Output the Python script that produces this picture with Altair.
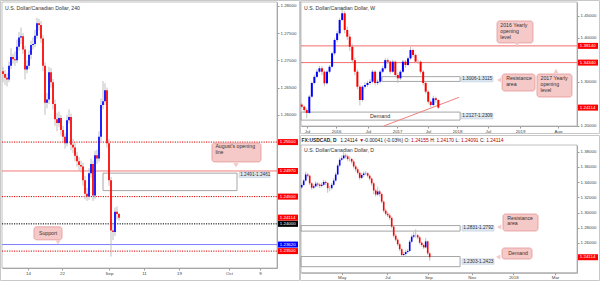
import altair as alt
import pandas as pd

FONT = "Liberation Sans"
BLUE = "#0000ff"
RED = "#ff0000"
WICK = "#b8b8b8"
PINK = "#f6c9c9"
PINK_EDGE = "#e39696"
FRAME = "#b0b0b0"
TXT = "#333333"

# ======================= DATA =======================
# ---- 4-hour panel ----
H4_OPEN0 = 1.2680
H4_CLOSE = [1.2675, 1.2668, 1.2665, 1.2690, 1.2706, 1.2702, 1.2700, 1.2725, 1.2742, 1.2744,
            1.2720, 1.2683, 1.2690, 1.2710, 1.2728, 1.2730, 1.2745, 1.2768, 1.2765, 1.2740,
            1.2690, 1.2622, 1.2628, 1.2678, 1.2660, 1.2620, 1.2592, 1.2585, 1.2594, 1.2572,
            1.2560, 1.2548, 1.2590, 1.2596, 1.2545, 1.2540, 1.2525, 1.2515, 1.2508, 1.2505,
            1.2480, 1.2455, 1.2450, 1.2493, 1.2510, 1.2452, 1.2526, 1.2520, 1.2560, 1.2618,
            1.2625, 1.2645, 1.2548, 1.2480, 1.2388, 1.2385, 1.2422, 1.2418, 1.2411]
H4_HIGH = [1.2688, 1.2682, 1.2676, 1.2698, 1.2722, 1.2712, 1.2716, 1.2738, 1.2752, 1.2760,
           1.2750, 1.2726, 1.2700, 1.2718, 1.2736, 1.2742, 1.2756, 1.2778, 1.2776, 1.2772,
           1.2746, 1.2696, 1.2640, 1.2688, 1.2686, 1.2666, 1.2628, 1.2604, 1.2606, 1.2600,
           1.2580, 1.2566, 1.2600, 1.2610, 1.2602, 1.2556, 1.2548, 1.2532, 1.2522, 1.2516,
           1.2512, 1.2488, 1.2466, 1.2502, 1.2520, 1.2516, 1.2534, 1.2536, 1.2570, 1.2630,
           1.2662, 1.2658, 1.2650, 1.2556, 1.2486, 1.2398, 1.2430, 1.2432, 1.2420]
H4_LOW = [1.2660, 1.2655, 1.2652, 1.2660, 1.2684, 1.2694, 1.2690, 1.2695, 1.2718, 1.2730,
          1.2712, 1.2665, 1.2676, 1.2684, 1.2702, 1.2720, 1.2724, 1.2740, 1.2755, 1.2732,
          1.2680, 1.2600, 1.2612, 1.2620, 1.2650, 1.2610, 1.2580, 1.2570, 1.2578, 1.2562,
          1.2550, 1.2538, 1.2542, 1.2584, 1.2535, 1.2530, 1.2515, 1.2505, 1.2498, 1.2494,
          1.2470, 1.2445, 1.2442, 1.2444, 1.2485, 1.2442, 1.2446, 1.2510, 1.2514, 1.2552,
          1.2610, 1.2618, 1.2540, 1.2470, 1.2340, 1.2370, 1.2378, 1.2408, 1.2406]
H4_XTICK_POS = [12.5, 29.5, 53, 70.5, 88, 113, 128.5]
H4_XTICK_LBL = ["14", "22", "Sep", "11", "19", "Oct", "9"]
H4_YTICKS = [1.26, 1.265, 1.27, 1.275, 1.28]
H4_RED_DOTTED = [1.255, 1.245, 1.235]
H4_AUG_OPEN = [1.2497]
H4_ROUND = [1.24]
H4_SUPPORT = [1.2362]
H4_LAST = [1.24114]
H4_ZONE = [1.2461, 1.2493]
H4_ZONE_TXT = "1.2491-1.2461"

# ---- weekly panel ----
WK_OPEN0 = 1.2480
WK_CLOSE = [1.2432, 1.2357, 1.2290, 1.2660, 1.2970, 1.3110, 1.3227, 1.3305, 1.3227, 1.2964,
            1.3227, 1.3340, 1.3645, 1.3948, 1.4100, 1.4402, 1.4555, 1.4175, 1.4023, 1.3795,
            1.3490, 1.3227, 1.2886, 1.2584, 1.2886, 1.2925, 1.2970, 1.3000, 1.3227, 1.2970,
            1.3000, 1.3227, 1.3305, 1.3490, 1.3455, 1.3227, 1.3455, 1.3152, 1.3077, 1.3227,
            1.3455, 1.3380, 1.3530, 1.3720, 1.3607, 1.3455, 1.3455, 1.3227, 1.2970, 1.2773,
            1.2545, 1.2470, 1.2623, 1.2584, 1.2411]
WK_HIGH = [1.2520, 1.2460, 1.2400, 1.2700, 1.3000, 1.3160, 1.3280, 1.3360, 1.3350, 1.3250,
           1.3260, 1.3380, 1.3680, 1.3990, 1.4150, 1.4450, 1.4690, 1.4600, 1.4250, 1.4080,
           1.3850, 1.3550, 1.3280, 1.2920, 1.2920, 1.2990, 1.3020, 1.3060, 1.3270, 1.3260,
           1.3050, 1.3260, 1.3360, 1.3530, 1.3530, 1.3480, 1.3500, 1.3480, 1.3200, 1.3270,
           1.3500, 1.3490, 1.3570, 1.3790, 1.3750, 1.3640, 1.3500, 1.3480, 1.3260, 1.3000,
           1.2800, 1.2580, 1.2680, 1.2660, 1.2600]
WK_LOW = [1.2400, 1.2300, 1.2170, 1.2270, 1.2640, 1.2940, 1.3080, 1.3200, 1.3150, 1.2900,
          1.2940, 1.3190, 1.3320, 1.3600, 1.3900, 1.4050, 1.4380, 1.4100, 1.3950, 1.3700,
          1.3420, 1.3150, 1.2830, 1.2460, 1.2550, 1.2840, 1.2880, 1.2930, 1.2960, 1.2920,
          1.2920, 1.2960, 1.3190, 1.3270, 1.3400, 1.3180, 1.3200, 1.3100, 1.2970, 1.3040,
          1.3200, 1.3320, 1.3350, 1.3500, 1.3560, 1.3420, 1.3400, 1.3180, 1.2920, 1.2730,
          1.2500, 1.2420, 1.2440, 1.2520, 1.2380]
WK_XTICK_POS = [2.1, 13.6, 26.2, 37.7, 49.9, 61.4, 73.6, 86.3, 101.3]
WK_XTICK_LBL = ["Jul", "2016", "Jul", "2017", "Jul", "2018", "Jul", "2019", "Aug"]
WK_YTICKS = [1.20, 1.30, 1.40, 1.45]
WK_YEAR_OPENS = [1.3814, 1.3434]
WK_LAST = [1.24114]
WK_RES_ZONE = [1.3006, 1.3115]
WK_RES_TXT = "1.3006-1.3115"
WK_DEM_ZONE = [1.2127, 1.2309]
WK_DEM_TXT = "1.2127-1.2309"
WK_TREND_X = [32.4, 62.2]
WK_TREND_Y = [1.1993, 1.2645]

# ---- daily panel ----
D1_OPEN0 = 1.3330
D1_CLOSE = [1.3362, 1.3420, 1.3500, 1.3484, 1.3384, 1.3326, 1.3345, 1.3380, 1.3368, 1.3350,
            1.3365, 1.3402, 1.3387, 1.3320, 1.3320, 1.3364, 1.3420, 1.3500, 1.3618, 1.3694,
            1.3713, 1.3750, 1.3738, 1.3703, 1.3704, 1.3670, 1.3606, 1.3568, 1.3522, 1.3456,
            1.3494, 1.3513, 1.3516, 1.3484, 1.3446, 1.3384, 1.3290, 1.3237, 1.3277, 1.3243,
            1.3142, 1.3024, 1.2983, 1.2963, 1.2929, 1.2814, 1.2695, 1.2642, 1.2582, 1.2517,
            1.2441, 1.2454, 1.2480, 1.2494, 1.2616, 1.2682, 1.2700, 1.2700, 1.2673, 1.2603,
            1.2572, 1.2541, 1.2620, 1.2463, 1.2411]
D1_HIGH = [1.3385, 1.3440, 1.3535, 1.3520, 1.3495, 1.3400, 1.3370, 1.3410, 1.3400, 1.3385,
           1.3395, 1.3430, 1.3420, 1.3400, 1.3350, 1.3390, 1.3450, 1.3530, 1.3640, 1.3720,
           1.3750, 1.3793, 1.3780, 1.3760, 1.3740, 1.3720, 1.3690, 1.3630, 1.3590, 1.3540,
           1.3520, 1.3540, 1.3545, 1.3530, 1.3500, 1.3460, 1.3400, 1.3310, 1.3340, 1.3300,
           1.3260, 1.3160, 1.3050, 1.3010, 1.2990, 1.2945, 1.2830, 1.2720, 1.2660, 1.2600,
           1.2530, 1.2480, 1.2510, 1.2520, 1.2640, 1.2710, 1.2740, 1.2778, 1.2720, 1.2690,
           1.2620, 1.2590, 1.2665, 1.2630, 1.2475]
D1_LOW = [1.3310, 1.3350, 1.3410, 1.3460, 1.3360, 1.3300, 1.3310, 1.3330, 1.3340, 1.3320,
          1.3330, 1.3350, 1.3360, 1.3260, 1.3280, 1.3300, 1.3350, 1.3410, 1.3490, 1.3600,
          1.3680, 1.3700, 1.3710, 1.3680, 1.3670, 1.3640, 1.3580, 1.3540, 1.3500, 1.3430,
          1.3440, 1.3470, 1.3490, 1.3460, 1.3420, 1.3350, 1.3240, 1.3210, 1.3220, 1.3210,
          1.3120, 1.3000, 1.2960, 1.2940, 1.2900, 1.2790, 1.2670, 1.2620, 1.2560, 1.2490,
          1.2415, 1.2420, 1.2430, 1.2460, 1.2480, 1.2600, 1.2660, 1.2670, 1.2650, 1.2580,
          1.2550, 1.2520, 1.2530, 1.2440, 1.2365]
D1_XTICK_POS = [20.0, 42.8, 63.3, 85.0, 105.8, 126.65]
D1_XTICK_LBL = ["May", "Jul", "Sep", "Nov", "2018", "Mar"]
D1_YTICKS = [1.26, 1.28, 1.30, 1.32, 1.34, 1.36, 1.38]
D1_LAST = [1.24114]
D1_RES_ZONE = [1.2755, 1.2828]
D1_RES_TXT = "1.2831-1.2792"
D1_DEM_ZONE = [1.2287, 1.2421]
D1_DEM_TXT = "1.2303-1.2423"

HEADER_PARTS = ["FX:USDCAD, D", "1.24114", "\u25bc", "-0.00041 (-0.03%)", "O:", "1.24155",
                "H:", "1.24170", "L:", "1.24091", "C:", "1.24114"]
HEADER_RED = [False, False, True, False, False, True, False, True, False, True, False, True]

# ======================= PANEL SCALES =======================
def panel(xdom, xrng, ydom, yrng):
    return dict(
        xdom=xdom, ydom=ydom,
        xs=alt.Scale(domain=xdom, range=xrng, nice=False, zero=False),
        ys=alt.Scale(domain=ydom, range=yrng, nice=False, zero=False),
    )

P4 = panel([-0.5, 137.0], [2, 277], [1.2319, 1.2807], [268, 2])
PW = panel([-0.28, 108.8], [301, 577], [1.19932, 1.48114], [126, 2])
PD = panel([-0.35, 137.65], [301, 577], [1.22079, 1.38882], [272.7, 145])


def xq(field, p):
    return alt.X(field, type="quantitative", scale=p["xs"], axis=None)


def yq(field, p):
    return alt.Y(field, type="quantitative", scale=p["ys"], axis=None)


def label_expr(pos, lbl):
    s = "''"
    for v, t in reversed(list(zip(pos, lbl))):
        s = f"(abs(datum.value - {v}) < 0.01 ? '{t}' : {s})"
    return s


AX = dict(labelFontSize=4.4, labelFont=FONT, labelColor="#444444", tickSize=2,
          tickColor="#999999", domainColor="#a0a0a0", grid=False, title=None,
          labelPadding=1, labelOverlap=False, labelFlush=False)


def frame_layer(p, xpos, xlbl, xoff, yvals, yoff):
    df = pd.DataFrame({"x0": [p["xdom"][0]], "x1": [p["xdom"][1]],
                       "y0": [p["ydom"][0]], "y1": [p["ydom"][1]]})
    xa = alt.Axis(orient="bottom", offset=xoff, values=xpos,
                  labelExpr=label_expr(xpos, xlbl), **AX)
    ya = alt.Axis(orient="right", offset=yoff, values=yvals, format=".5f", **AX)
    return alt.Chart(df).mark_rect(fillOpacity=0, stroke=FRAME, strokeWidth=0.8).encode(
        x=alt.X("x0", type="quantitative", scale=p["xs"], axis=xa), x2="x1",
        y=alt.Y("y0", type="quantitative", scale=p["ys"], axis=ya), y2="y1")


def candle_layers(p, open0, close, high, low, body_w):
    opens = [open0] + list(close[:-1])
    df = pd.DataFrame({"i": list(range(len(close))), "open": opens, "close": close,
                       "high": high, "low": low})
    wick = alt.Chart(df).mark_rule(color=WICK, strokeWidth=0.9).encode(
        x=xq("i", p), y=yq("low", p), y2="high")
    body = alt.Chart(df).mark_rule(strokeWidth=body_w).encode(
        x=xq("i", p), y=yq("open", p), y2="close",
        color=alt.condition("datum.close >= datum.open", alt.value(BLUE), alt.value(RED)))
    return [wick, body]


def hlines(p, prices, color, dash=None, width=1.0):
    df = pd.DataFrame({"price": prices, "x0": p["xdom"][0], "x1": p["xdom"][1]})
    kw = dict(color=color, strokeWidth=width)
    if dash:
        kw["strokeDash"] = dash
    return alt.Chart(df).mark_rule(**kw).encode(x=xq("x0", p), x2="x1", y=yq("price", p))


def tags(p, prices, color, x_px):
    df = pd.DataFrame({"price": prices, "txt": [f"{v:.5f}" for v in prices]})
    r = alt.Chart(df).mark_rect(color=color, yOffset=-3, y2Offset=3).encode(
        x=alt.value(x_px), x2=alt.value(x_px + 20), y=yq("price", p), y2="price")
    t = alt.Chart(df).mark_text(color="white", fontSize=4.4, font=FONT, align="left",
                                baseline="middle").encode(
        x=alt.value(x_px + 1.8), y=yq("price", p), text="txt:N")
    return [r, t]


def zone(p, x0, x1, rng):
    df = pd.DataFrame({"x0": [x0], "x1": [x1], "lo": [rng[0]], "hi": [rng[1]]})
    return alt.Chart(df).mark_rect(fillOpacity=0, stroke="#9c9c9c", strokeWidth=0.9).encode(
        x=xq("x0", p), x2="x1", y=yq("lo", p), y2="hi")


def zone_label(p, x0, x1, price, text):
    df = pd.DataFrame({"x0": [x0], "x1": [x1], "price": [price], "t": [text]})
    r = alt.Chart(df).mark_rect(fill="#dde7f1", stroke="#b9c9d8", strokeWidth=0.5,
                                yOffset=-2.8, y2Offset=2.8).encode(
        x=xq("x0", p), x2="x1", y=yq("price", p), y2="price")
    t = alt.Chart(df).mark_text(fontSize=4.7, font=FONT, color=TXT, align="left",
                                baseline="middle", dx=1.2).encode(
        x=xq("x0", p), y=yq("price", p), text="t:N")
    return [r, t]


def callout(p, box, tip, shape, text, tpos, baseline="top", align="left"):
    bdf = pd.DataFrame({"x0": [box[0]], "x1": [box[1]], "y0": [box[2]], "y1": [box[3]]})
    r = alt.Chart(bdf).mark_rect(fill=PINK, stroke=PINK_EDGE, strokeWidth=0.8,
                                 cornerRadius=2.5).encode(
        x=xq("x0", p), x2="x1", y=yq("y0", p), y2="y1")
    tdf = pd.DataFrame({"x": [tip[0]], "y": [tip[1]]})
    tri = alt.Chart(tdf).mark_point(shape=shape, filled=True, color=PINK, size=26,
                                    opacity=1, strokeWidth=0).encode(
        x=xq("x", p), y=yq("y", p))
    xdf = pd.DataFrame({"x": [tpos[0]], "y": [tpos[1]], "t": [text]})
    t = alt.Chart(xdf).mark_text(fontSize=5.2, font=FONT, color=TXT, align=align,
                                 baseline=baseline, lineBreak="\n", lineHeight=5.8).encode(
        x=xq("x", p), y=yq("y", p), text="t:N")
    return [r, tri, t]


def px_text(text, x, y, color=TXT, size=5.2, weight="normal", align="left"):
    return alt.Chart(pd.DataFrame({"t": [text]})).mark_text(
        fontSize=size, font=FONT, color=color, align=align, baseline="middle",
        fontWeight=weight).encode(x=alt.value(x), y=alt.value(y), text="t:N")


def px_box(x0, x1, y0, y1, color="#c8c8c8"):
    return alt.Chart(pd.DataFrame({"a": [0]})).mark_rect(
        fillOpacity=0, stroke=color, strokeWidth=1).encode(
        x=alt.value(x0), x2=alt.value(x1), y=alt.value(y0), y2=alt.value(y1))


layers = []

# outer panel borders
layers += [px_box(0.5, 299.5, 0.5, 280.5), px_box(300.5, 599.5, 0.5, 133.5),
           px_box(300.5, 599.5, 135.5, 280.5)]

# ---------------- 4h panel ----------------
layers.append(frame_layer(P4, H4_XTICK_POS, H4_XTICK_LBL, -13, H4_YTICKS, -323))
layers.append(zone(P4, 50, 117, H4_ZONE))
layers += zone_label(P4, 118, 133.5, 1.2490, H4_ZONE_TXT)
layers.append(hlines(P4, H4_RED_DOTTED, "#e00000", dash=[1.2, 1.2]))
layers.append(hlines(P4, H4_AUG_OPEN, "#f07a7a"))
layers.append(hlines(P4, H4_ROUND, "#000000", dash=[1.2, 1.2]))
layers.append(hlines(P4, H4_SUPPORT, "#7d7dff"))
layers += candle_layers(P4, H4_OPEN0, H4_CLOSE, H4_HIGH, H4_LOW, 1.7)
layers += callout(P4, (104.5, 129, 1.25136, 1.25484), (116.5, 1.25075), "triangle-down",
                  "August's opening\nline", (106.2, 1.2546))
layers += callout(P4, (15.5, 29.5, 1.23707, 1.23945), (27.5, 1.2366), "triangle-down",
                  "Support", (22.5, 1.23826), baseline="middle", align="center")
layers += tags(P4, H4_RED_DOTTED + H4_AUG_OPEN + H4_LAST, RED, 278)
layers += tags(P4, H4_ROUND, "#000000", 278)
layers += tags(P4, H4_SUPPORT, BLUE, 278)
layers.append(px_text("U.S. Dollar/Canadian Dollar, 240", 5, 8))

# ---------------- weekly panel ----------------
layers.append(frame_layer(PW, WK_XTICK_POS, WK_XTICK_LBL, -155, WK_YTICKS, -23))
layers.append(zone(PW, 31.7, 62.6, WK_RES_ZONE))
layers.append(zone(PW, PW["xdom"][0], 62.6, WK_DEM_ZONE))
layers += zone_label(PW, 62.96, 75.6, sum(WK_RES_ZONE) / 2, WK_RES_TXT)
layers += zone_label(PW, 62.96, 75.6, sum(WK_DEM_ZONE) / 2, WK_DEM_TXT)
layers.append(alt.Chart(pd.DataFrame({"x": [31.0], "y": [sum(WK_DEM_ZONE) / 2],
                                      "t": ["Demand"]})).mark_text(
    fontSize=5.4, font=FONT, color=TXT, align="center", baseline="middle").encode(
    x=xq("x", PW), y=yq("y", PW), text="t:N"))
layers.append(hlines(PW, WK_YEAR_OPENS, "#f26d6d"))
layers.append(alt.Chart(pd.DataFrame({"x": WK_TREND_X, "y": WK_TREND_Y})).mark_line(
    color="#f08080", strokeWidth=1).encode(x=xq("x", PW), y=yq("y", PW)))
layers += candle_layers(PW, WK_OPEN0, WK_CLOSE, WK_HIGH, WK_LOW, 2.0)
layers += callout(PW, (77.2, 91.4, 1.3880, 1.4380), (85.1, 1.3842), "triangle-down",
                  "2016 Yearly\nopening\nlevel", (78.5, 1.4330))
layers += callout(PW, (79.2, 92.2, 1.2789, 1.3175), (78.0, 1.3040), "triangle-left",
                  "Resistance\narea", (80.8, 1.3125))
layers += callout(PW, (93.0, 106.8, 1.2652, 1.3175), (100.5, 1.3245), "triangle-up",
                  "2017 Yearly\nopening\nlevel", (94.4, 1.3125))
layers += tags(PW, WK_YEAR_OPENS + WK_LAST, RED, 578)
layers.append(px_text("U.S. Dollar/Canadian Dollar, W", 304, 8))

# ---------------- daily panel ----------------
layers.append(frame_layer(PD, D1_XTICK_POS, D1_XTICK_LBL, -8.3, D1_YTICKS, -23))
layers.append(zone(PD, PD["xdom"][0], 79.2, D1_RES_ZONE))
layers.append(zone(PD, PD["xdom"][0], 79.2, D1_DEM_ZONE))
layers += zone_label(PD, 80.15, 96.15, sum(D1_RES_ZONE) / 2, D1_RES_TXT)
layers += zone_label(PD, 80.15, 96.15, sum(D1_DEM_ZONE) / 2, D1_DEM_TXT)
layers += candle_layers(PD, D1_OPEN0, D1_CLOSE, D1_HIGH, D1_LOW, 1.6)
layers += callout(PD, (100.65, 118.15, 1.2757, 1.2980), (98.7, 1.2809), "triangle-left",
                  "Resistance\narea", (102.8, 1.2960))
layers += callout(PD, (100.15, 115.15, 1.2388, 1.2533), (98.2, 1.2414), "triangle-left",
                  "Demand", (103.3, 1.2461), baseline="middle")
layers += tags(PD, D1_LAST, RED, 578)
layers.append(px_text("U.S. Dollar/Canadian Dollar, D", 304, 150))

# ---------------- header line ----------------
CW = {".": .278, ":": .278, ",": .278, " ": .278, "-": .333, "(": .333, ")": .333,
      "%": .889, "F": .611, "X": .667, "U": .722, "S": .667, "D": .722, "C": .722,
      "A": .667, "O": .778, "H": .722, "L": .556, "\u25bc": .62}
HSIZE = 4.9
hx = 301.5
for k, (part, red) in enumerate(zip(HEADER_PARTS, HEADER_RED)):
    bold = k == 0
    layers.append(px_text(part, hx, 140.5, color="#b00000" if red else "#222222",
                          size=HSIZE, weight="bold" if bold else "normal"))
    w = sum(CW.get(ch, .556) for ch in part) * HSIZE * (1.08 if bold else 1.0)
    hx += w + 0.278 * HSIZE

chart = alt.layer(*layers).resolve_scale(x="independent", y="independent").properties(
    width=600, height=281, padding=0, autosize=alt.AutoSizeParams(type="none"),
    background="white").configure_view(strokeWidth=0)

chart.save("out.html", embed_options={"renderer": "svg", "actions": False})
